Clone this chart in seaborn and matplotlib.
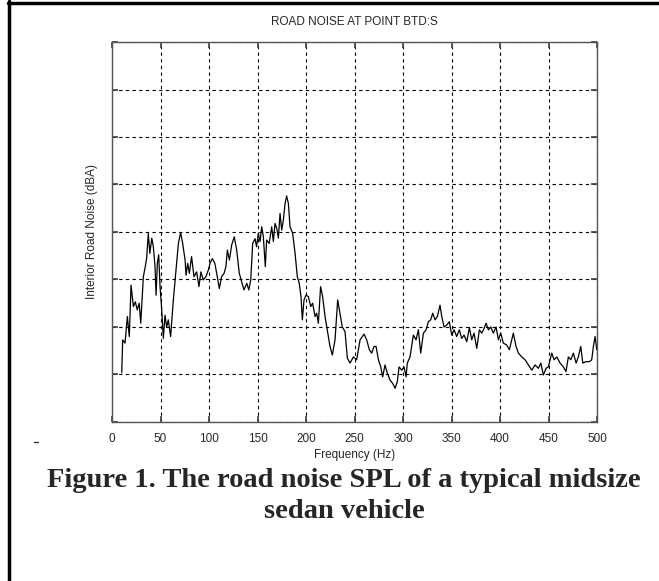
import numpy as np
import pandas as pd
import seaborn as sns
import matplotlib.pyplot as plt
from matplotlib.lines import Line2D

# Frequency (Hz) and relative level (grid units, 8 divisions)
freq = [10, 11, 13.4, 15.8, 17.8, 19.6, 22, 24, 26, 28, 29.6, 32.3, 34, 35.7, 37.4, 39, 41,
        42.6, 44.3, 45.4, 46.7, 48.1, 49.5, 51, 52.9, 54.6, 56.3, 58, 60.4, 63.2, 65.9, 68.4,
        70.7, 72.8, 75.3, 76.3, 78, 79.7, 82, 84.5, 87.2, 89.6, 91.6, 94, 96.8, 99.3, 101,
        103.4, 106, 108.5, 110.6, 113, 115.5, 117.4, 118.9, 121, 123.4, 126, 128.5, 131.2,
        133.7, 136, 138.9, 141, 143, 145, 147.4, 149, 150.8, 152.6, 154.3, 156, 158, 159.4,
        162, 164.6, 166.3, 168, 169.8, 171.5, 173.2, 174.9, 176.6, 178.4, 180, 181.8, 183.5,
        186.2, 188.7, 191, 193, 194.8, 196.2, 197.9, 200, 202.4, 204.8, 206.8, 209.3, 211,
        212.7, 215, 217.1, 219.6, 223, 224.7, 227.1, 229.9, 232.6, 235, 237.4, 240.2, 242.6,
        245.4, 248.8, 252.2, 255.7, 259.8, 262.5, 265.3, 267.7, 270.1, 272.2, 274.6, 277, 279,
        281.4, 283.8, 286.6, 289.4, 291.8, 294.1, 295.9, 298.7, 301, 303.1, 304.4, 307.2,
        310.6, 313.4, 315.8, 318.2, 321, 323.7, 326.1, 328.5, 330.6, 333, 335.4, 338.1, 339.9,
        342.3, 345, 347.7, 350.2, 352.6, 355.3, 358, 360.5, 362.9, 365.7, 368.4, 370.8, 373.2,
        376, 378.7, 381.1, 383.5, 385.6, 388, 390.4, 393.1, 395.9, 398.3, 400.7, 403.4, 406.9,
        409.6, 412, 413.7, 416.5, 418.9, 422.4, 425.8, 429.2, 432.7, 436.1, 439.5, 442, 444.7,
        447.4, 449.8, 453.3, 455.7, 458.5, 461.9, 465.3, 468, 470.4, 472.9, 475.6, 478.4,
        480.7, 483.2, 485.3, 488.7, 492.1, 494.5, 496.2, 498, 499.7]
level = [1.04, 1.73, 1.66, 2.22, 1.8, 2.88, 2.43, 2.53, 2.36, 2.5, 2.08, 3.06, 3.24, 3.45, 3.97,
         3.55, 3.87, 3.69, 3.27, 2.67, 3.34, 3.52, 2.85, 2.43, 1.76, 2.25, 2.0, 2.15, 1.8, 2.57,
         3.2, 3.76, 3.99, 3.76, 3.41, 3.09, 3.34, 3.13, 3.48, 3.06, 3.16, 2.85, 3.16, 2.99,
         3.06, 3.2, 3.34, 3.44, 3.34, 3.06, 2.81, 3.06, 3.13, 3.27, 3.62, 3.41, 3.73, 3.9,
         3.62, 3.13, 2.95, 2.78, 2.92, 2.78, 2.99, 3.76, 3.86, 3.69, 3.97, 3.8, 4.11, 3.9,
         3.27, 3.83, 3.76, 4.11, 3.8, 4.18, 4.08, 3.87, 4.39, 4.04, 4.25, 4.6, 4.76, 4.6, 4.11,
         3.97, 3.55, 3.06, 2.92, 2.64, 2.15, 2.57, 2.67, 2.64, 2.43, 2.5, 2.22, 2.29, 2.08,
         2.85, 2.64, 2.22, 1.8, 1.59, 1.41, 1.73, 2.57, 2.29, 2.0, 1.9, 1.34, 1.24, 1.37, 1.31,
         1.73, 1.85, 1.73, 1.52, 1.45, 1.59, 1.59, 1.31, 1.16, 0.95, 1.2, 1.03, 0.88, 0.81,
         0.71, 0.85, 1.16, 1.09, 1.16, 0.95, 1.24, 1.37, 1.83, 1.73, 1.94, 1.45, 1.87, 1.94,
         2.11, 2.15, 2.29, 2.15, 2.22, 2.46, 2.22, 2.0, 2.04, 2.11, 1.83, 1.94, 1.8, 1.94,
         1.76, 1.83, 1.69, 1.99, 1.73, 1.87, 1.55, 1.94, 1.87, 1.97, 2.08, 1.94, 2.0, 1.87,
         2.0, 1.73, 1.87, 1.66, 1.62, 1.52, 1.73, 1.87, 1.59, 1.45, 1.37, 1.31, 1.2, 1.09, 1.2,
         1.13, 1.24, 0.99, 1.13, 1.16, 1.45, 1.31, 1.37, 1.24, 1.16, 1.06, 1.37, 1.31, 1.45,
         1.24, 1.37, 1.59, 1.24, 1.27, 1.27, 1.31, 1.59, 1.8, 1.52]

x_ticks = [0, 50, 100, 150, 200, 250, 300, 350, 400, 450, 500]
y_grid = [0, 1, 2, 3, 4, 5, 6, 7, 8]

title = "ROAD NOISE AT POINT BTD:S"
x_label = "Frequency (Hz)"
y_label = "Interior Road Noise (dBA)"
caption = "Figure 1. The road noise SPL of a typical midsize\nsedan vehicle"

df = pd.DataFrame({"freq": freq, "level": level})

sns.set_theme(style="white")
plt.rcParams["font.family"] = ["Liberation Sans", "DejaVu Sans"]

fig = plt.figure(figsize=(6.59, 5.81), dpi=100)
ax = fig.add_axes([0.170, 0.2737, 0.736, 0.6540])

sns.lineplot(data=df, x="freq", y="level", color="black", linewidth=0.9, ax=ax)

ax.set_xlim(0, 500)
ax.set_ylim(0, 8)
ax.set_xticks(x_ticks)
ax.set_yticks(y_grid)
ax.set_yticklabels([])
ax.grid(True, color="black", linestyle=(0, (3, 3)), linewidth=0.8)
ax.tick_params(direction="in", length=4, color="#444444", labelsize=8.5,
               bottom=True, left=True, top=True, right=True, pad=8)
for s in ax.spines.values():
    s.set_color("#555555")
    s.set_linewidth(1.0)

ax.set_title(title, fontsize=8.5, pad=12)
ax.set_xlabel(x_label, fontsize=8.5, labelpad=3)
ax.set_ylabel(y_label, fontsize=8.5, labelpad=2)

fig.text(0.522, 0.1463, caption, ha="center", va="center", fontsize=20.5,
         fontweight="bold", family="Liberation Serif", linespacing=1.3)

# page border pieces from the original document
fig.add_artist(Line2D([8 / 659, 1], [1 - 2.5 / 581, 1 - 2.5 / 581], color="black", lw=2.5,
                      transform=fig.transFigure))
fig.add_artist(Line2D([9 / 659, 9 / 659], [0, 1 - 1 / 581], color="black", lw=2.5,
                      transform=fig.transFigure))
fig.add_artist(Line2D([34 / 659, 38 / 659], [1 - 442 / 581, 1 - 442 / 581], color="#333333",
                      lw=1, transform=fig.transFigure))

fig.savefig("out.png", dpi=100)
